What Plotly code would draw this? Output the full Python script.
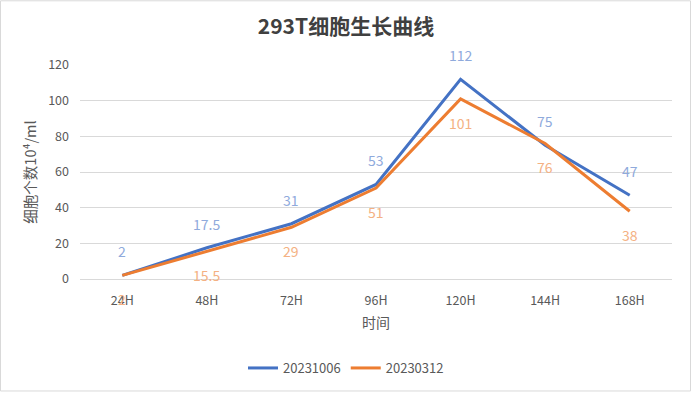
import plotly.graph_objects as go

categories = ["24H", "48H", "72H", "96H", "120H", "144H", "168H"]
series_a_name = "20231006"
series_a = [2, 17.5, 31, 53, 112, 75, 47]
series_b_name = "20230312"
series_b = [2, 15.5, 29, 51, 101, 76, 38]
y_ticks = [0, 20, 40, 60, 80, 100, 120]

W, H = 692, 394
ML, MR, MT, MB = 80, 20, 65, 114
PW, PH = W - ML - MR, H - MT - MB

font_family = "Noto Sans CJK SC, Noto Sans, sans-serif"

fig = go.Figure()
fig.add_trace(go.Scatter(x=categories, y=series_a, mode="lines", name=series_a_name,
                         line=dict(color="#4472C4", width=3)))
fig.add_trace(go.Scatter(x=categories, y=series_b, mode="lines", name=series_b_name,
                         line=dict(color="#ED7D31", width=3)))

def fmt(v):
    return str(int(v)) if float(v).is_integer() else str(v)

for c, v in zip(categories, series_a):
    fig.add_annotation(x=c, y=v, text=fmt(v), showarrow=False, yshift=24,
                       font=dict(size=14, color="#8FAADC", family=font_family))
for c, v in zip(categories, series_b):
    fig.add_annotation(x=c, y=v, text=fmt(v), showarrow=False, yshift=-24,
                       font=dict(size=14, color="#F4B183", family=font_family))

fig.add_shape(type="rect", xref="paper", yref="paper",
              x0=-(ML - 0.5) / PW, x1=1 + (MR - 1.5) / PW,
              y0=-(MB - 1.5) / PH, y1=1 + (MT - 0.5) / PH,
              line=dict(color="#D9D9D9", width=1), layer="below")

fig.update_layout(
    width=W, height=H,
    margin=dict(l=ML, r=MR, t=MT, b=MB),
    paper_bgcolor="white", plot_bgcolor="white",
    font=dict(family=font_family, color="#595959", size=12),
    title=dict(text="<b>293T细胞生长曲线</b>", x=(346) / W, xanchor="center",
               y=1 - 27 / H, yanchor="middle", yref="container",
               font=dict(size=21, color="#404040", family=font_family)),
    xaxis=dict(type="category", range=[-0.5, 6.5], showgrid=False,
               showline=True, linecolor="#D9D9D9", linewidth=1, ticks="",
               tickfont=dict(size=12.5, color="#595959"), ticklabelstandoff=10,
               title=dict(text="时间", font=dict(size=14, color="#595959"), standoff=10)),
    yaxis=dict(range=[0, 120], tickvals=y_ticks, showgrid=True, gridcolor="#D9D9D9",
               zeroline=False, showline=False, ticks="",
               tickfont=dict(size=12.5, color="#595959"), ticklabelstandoff=10,
               title=dict(text="细胞个数10⁴/ml", font=dict(size=14.5, color="#595959"), standoff=8)),
    legend=dict(orientation="h", x=(346 - ML) / PW, xanchor="center",
                y=-(368 - (MT + PH)) / PH, yanchor="middle",
                font=dict(size=13, color="#595959")),
    showlegend=True,
)

fig.write_html("out.html", config={"displayModeBar": False},
               post_script="document.body.style.margin='0';")
